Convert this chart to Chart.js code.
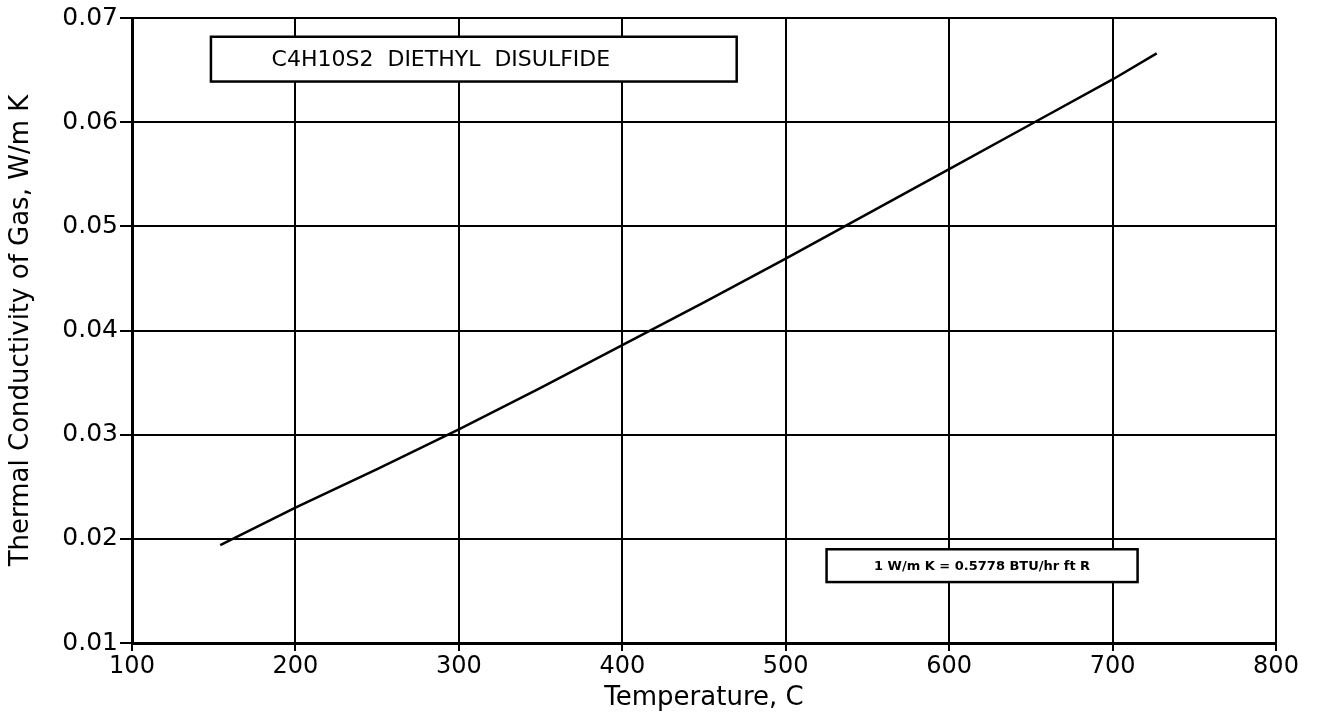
<!DOCTYPE html>
<html>
<head>
<meta charset="utf-8">
<script src="https://cdn.jsdelivr.net/npm/chart.js@4/dist/chart.umd.min.js"></script>
<style>
  html, body { margin: 0; padding: 0; background: #fff; }
  #wrap { width: 1318px; height: 722px; }
</style>
</head>
<body>
<div id="wrap"><canvas id="c" width="1318" height="722"></canvas></div>
<script>
// ---- data ----
const temperatures = [154, 200, 250, 300, 350, 400, 450, 500, 550, 600, 650, 700, 727];
const conductivity = [0.0194, 0.0230, 0.0267, 0.0305, 0.0345, 0.0386, 0.0427, 0.0469, 0.0512, 0.0555, 0.0598, 0.0641, 0.0666];
const xTicks = [100, 200, 300, 400, 500, 600, 700, 800];
const yTicks = [0.01, 0.02, 0.03, 0.04, 0.05, 0.06, 0.07];
const xTitle = 'Temperature, C';
const yTitle = 'Thermal Conductivity of Gas, W/m K';
const titleText = 'C4H10S2  DIETHYL  DISULFIDE';
const titleBox = { x0: 148.3, x1: 470, y0: 0.0682, y1: 0.0639, textX: 289 };
const noteText = '1 W/m K = 0.5778 BTU/hr ft R';
const noteBox = { x0: 525, x1: 715.3, y0: 0.0190, y1: 0.01585 };

const FONT = 'DejaVu Sans';

const boxesPlugin = {
  id: 'boxes',
  beforeDatasetsDraw(chart) {
    const { ctx, scales: { x, y } } = chart;
    function drawBox(b, text, font, tx) {
      const l = x.getPixelForValue(b.x0), r = x.getPixelForValue(b.x1);
      const t = y.getPixelForValue(b.y0), btm = y.getPixelForValue(b.y1);
      ctx.save();
      ctx.fillStyle = '#fff';
      ctx.fillRect(l, t, r - l, btm - t);
      ctx.strokeStyle = '#000';
      ctx.lineWidth = 2.5;
      ctx.strokeRect(l, t, r - l, btm - t);
      ctx.fillStyle = '#000';
      ctx.font = font;
      ctx.textAlign = 'center';
      ctx.textBaseline = 'middle';
      const cx = tx !== undefined ? x.getPixelForValue(tx) : (l + r) / 2;
      ctx.fillText(text, cx, (t + btm) / 2 + 1);
      ctx.restore();
    }
    drawBox(titleBox, titleText, '22px "' + FONT + '"', titleBox.textX);
    drawBox(noteBox, noteText, 'bold 13px "' + FONT + '"');
  }
};

new Chart(document.getElementById('c'), {
  type: 'scatter',
  data: {
    datasets: [{
      data: temperatures.map((t, i) => ({ x: t, y: conductivity[i] })),
      showLine: true,
      borderColor: '#000',
      borderWidth: 2.5,
      pointRadius: 0,
      tension: 0,
      fill: false
    }]
  },
  options: {
    responsive: false,
    animation: false,
    devicePixelRatio: 1,
    layout: { padding: { left: 0, right: 42, top: 18, bottom: 0 } },
    plugins: { legend: { display: false }, tooltip: { enabled: false } },
    scales: {
      x: {
        type: 'linear',
        min: 100, max: 800,
        afterBuildTicks: s => { s.ticks = xTicks.map(v => ({ value: v })); },
        afterFit: s => { s.height = 79; },
        ticks: {
          color: '#000', padding: 1, maxRotation: 0,
          font: { family: FONT, size: 24 },
          callback: v => String(v)
        },
        grid: { color: '#000', lineWidth: 2, tickLength: 8, tickColor: '#000', tickWidth: 2 },
        border: { color: '#000', width: 3 },
        title: {
          display: true, text: xTitle, color: '#000',
          font: { family: FONT, size: 26 },
          padding: { top: 0, bottom: 8 }
        }
      },
      y: {
        type: 'linear',
        min: 0.01, max: 0.07,
        afterBuildTicks: s => { s.ticks = yTicks.map(v => ({ value: v })); },
        afterFit: s => { s.width = 132; },
        ticks: {
          color: '#000', padding: 2,
          font: { family: FONT, size: 25 },
          callback: v => Number(v).toFixed(2)
        },
        grid: { color: '#000', lineWidth: 2, tickLength: 12, tickColor: '#000', tickWidth: 2 },
        border: { color: '#000', width: 3 },
        title: {
          display: true, text: yTitle, color: '#000',
          font: { family: FONT, size: 26 },
          padding: { top: 6, bottom: 0 }
        }
      }
    }
  },
  plugins: [boxesPlugin]
});
</script>
</body>
</html>
